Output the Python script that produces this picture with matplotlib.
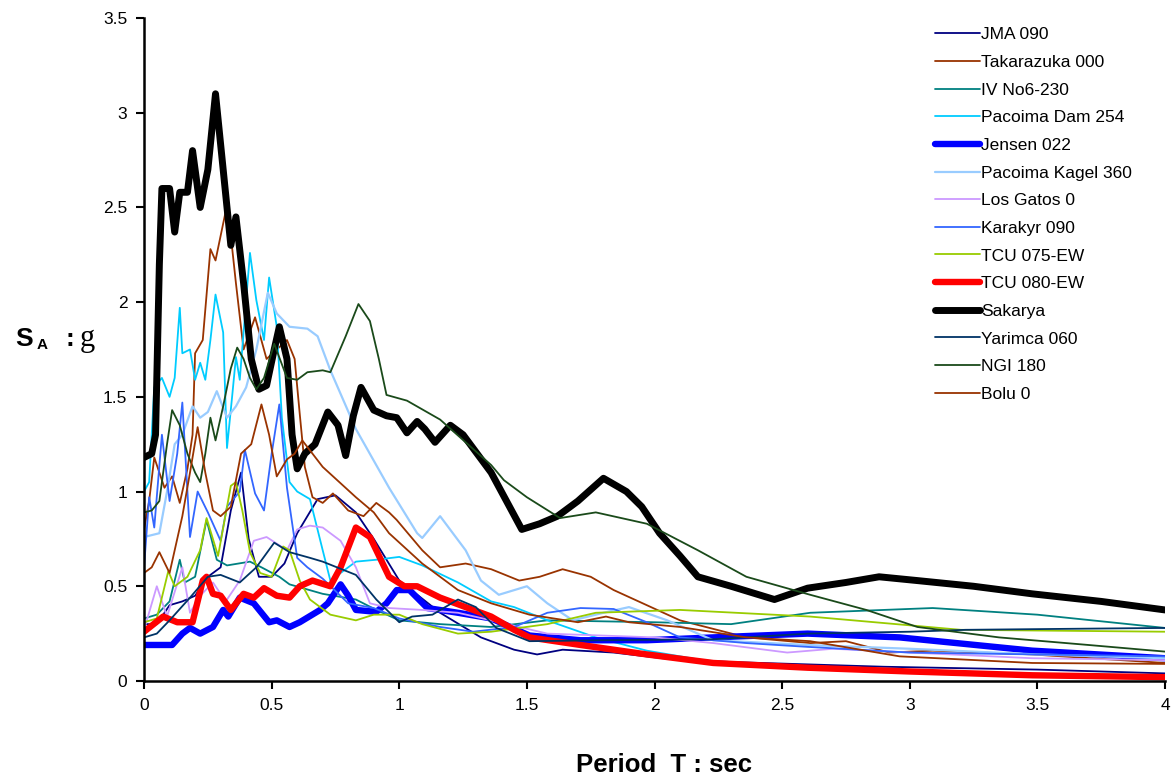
import matplotlib
matplotlib.use('Agg')
import matplotlib.pyplot as plt

plt.rcParams['font.family'] = ['Liberation Sans', 'DejaVu Sans']

# spectral acceleration SA (g) vs period T (s)
jma_t = [0, 0.05, 0.1, 0.15, 0.2, 0.25, 0.3, 0.34, 0.38, 0.41, 0.45, 0.5, 0.55, 0.6, 0.68, 0.75, 0.83, 0.9, 1.0,
         1.16, 1.32, 1.45, 1.54, 1.64, 1.84, 2.03, 2.3, 2.9, 3.5, 4.0]
jma_sa = [0.3, 0.3, 0.4, 0.42, 0.45, 0.55, 0.6, 0.9, 1.1, 0.75, 0.55, 0.55, 0.62, 0.78, 0.96, 0.98, 0.89, 0.75, 0.53,
          0.36, 0.23, 0.165, 0.14, 0.165, 0.15, 0.12, 0.1, 0.075, 0.06, 0.04]

tak_t = [0, 0.02, 0.04, 0.06, 0.08, 0.11, 0.14, 0.17, 0.19, 0.2, 0.23, 0.26, 0.28, 0.32, 0.34, 0.36, 0.39, 0.435,
         0.48, 0.52, 0.56, 0.59, 0.61, 0.63, 0.66, 0.7, 0.74, 0.8, 0.86, 0.91, 0.96, 0.99, 1.09, 1.16, 1.26, 1.36,
         1.47, 1.55, 1.64, 1.75, 1.84, 2.1, 2.36, 2.61, 2.75, 2.92, 3.09, 3.48, 4.0]
tak_sa = [0.8, 0.95, 1.18, 1.1, 1.02, 1.08, 0.94, 1.12, 1.3, 1.73, 1.8, 2.28, 2.22, 2.48, 2.35, 2.1, 1.75, 1.92,
          1.7, 1.75, 1.8, 1.7, 1.41, 1.13, 0.97, 0.94, 0.99, 0.9, 0.87, 0.94, 0.89, 0.85, 0.69, 0.6, 0.62, 0.59,
          0.53, 0.55, 0.59, 0.55, 0.48, 0.32, 0.23, 0.2, 0.21, 0.15, 0.16, 0.14, 0.095]

iv_t = [0, 0.05, 0.1, 0.14, 0.16, 0.2, 0.245, 0.285, 0.325, 0.37, 0.415, 0.46, 0.53, 0.57, 0.7, 0.83, 0.91, 1.0,
        1.16, 1.36, 1.58, 2.0, 2.3, 2.61, 3.09, 3.5, 4.0]
iv_sa = [0.33, 0.35, 0.42, 0.64, 0.52, 0.55, 0.85, 0.64, 0.61, 0.62, 0.63, 0.6, 0.55, 0.51, 0.46, 0.43, 0.375, 0.32,
         0.3, 0.285, 0.32, 0.31, 0.3, 0.36, 0.385, 0.35, 0.28]

pdam_t = [0, 0.02, 0.04, 0.07, 0.1, 0.12, 0.14, 0.15, 0.18, 0.2, 0.22, 0.24, 0.26, 0.28, 0.31, 0.325, 0.345, 0.36,
          0.375, 0.415, 0.44, 0.47, 0.49, 0.52, 0.54, 0.57, 0.6, 0.65, 0.7, 0.73, 0.77, 0.83, 0.91, 1.0, 1.09, 1.23,
          1.36, 1.45, 1.6, 1.77, 1.97, 2.23, 2.6, 3.0, 3.5, 4.0]
pdam_sa = [1.0, 1.05, 1.55, 1.6, 1.5, 1.6, 1.97, 1.73, 1.75, 1.59, 1.68, 1.59, 1.8, 2.04, 1.84, 1.23, 1.5, 1.71,
           1.59, 2.26, 2.01, 1.8, 2.13, 1.87, 1.39, 1.05, 1.0, 0.96, 0.69, 0.53, 0.57, 0.63, 0.64, 0.655, 0.61, 0.52,
           0.42, 0.39, 0.31, 0.23, 0.16, 0.1, 0.065, 0.05, 0.035, 0.025]

jen_t = [0, 0.05, 0.11, 0.15, 0.18, 0.22, 0.27, 0.31, 0.33, 0.375, 0.43, 0.49, 0.52, 0.57, 0.61, 0.69, 0.72, 0.77,
         0.8, 0.83, 0.91, 0.95, 0.99, 1.04, 1.11, 1.23, 1.36, 1.51, 1.71, 1.97, 2.23, 2.6, 2.96, 3.48, 4.0]
jen_sa = [0.19, 0.19, 0.19, 0.25, 0.28, 0.25, 0.285, 0.375, 0.34, 0.44, 0.41, 0.31, 0.32, 0.285, 0.31, 0.375, 0.41,
          0.51, 0.45, 0.375, 0.365, 0.41, 0.48, 0.48, 0.385, 0.36, 0.33, 0.24, 0.215, 0.215, 0.23, 0.25, 0.23, 0.16,
          0.12]

kag_t = [0, 0.03, 0.06, 0.09, 0.12, 0.15, 0.19, 0.22, 0.25, 0.285, 0.325, 0.36, 0.4, 0.44, 0.485, 0.52, 0.57, 0.64,
         0.68, 0.73, 0.83, 0.96, 1.07, 1.09, 1.16, 1.26, 1.32, 1.39, 1.5, 1.58, 1.68, 1.8, 1.9, 2.05, 2.23, 2.6, 3.0,
         3.5, 4.0]
kag_sa = [0.76, 0.77, 0.78, 1.0, 1.25, 1.3, 1.45, 1.39, 1.42, 1.53, 1.39, 1.45, 1.55, 1.75, 2.05, 1.94, 1.87, 1.86,
          1.82, 1.64, 1.33, 1.02, 0.78, 0.755, 0.87, 0.69, 0.53, 0.455, 0.5, 0.41, 0.32, 0.36, 0.39, 0.32, 0.215,
          0.19, 0.17, 0.14, 0.12]

gat_t = [0, 0.05, 0.09, 0.15, 0.18, 0.22, 0.27, 0.32, 0.375, 0.43, 0.48, 0.56, 0.6, 0.65, 0.7, 0.77, 0.83, 0.885,
         0.96, 1.09, 1.23, 1.36, 1.58, 2.0, 2.23, 2.52, 2.7, 3.0, 3.48, 4.0]
gat_sa = [0.27, 0.5, 0.34, 0.6, 0.36, 0.45, 0.52, 0.42, 0.53, 0.74, 0.76, 0.69, 0.8, 0.82, 0.81, 0.74, 0.6, 0.41,
          0.385, 0.375, 0.36, 0.32, 0.25, 0.23, 0.2, 0.15, 0.17, 0.15, 0.12, 0.11]

kar_t = [0, 0.02, 0.04, 0.07, 0.1, 0.13, 0.15, 0.17, 0.18, 0.21, 0.25, 0.3, 0.325, 0.375, 0.395, 0.435, 0.47, 0.5,
         0.53, 0.56, 0.6, 0.64, 0.7, 0.8, 0.9, 1.0, 1.16, 1.29, 1.45, 1.58, 1.71, 1.84, 1.97, 2.1, 2.36, 2.6, 3.0,
         3.5, 4.0]
kar_sa = [0.6, 0.97, 0.81, 1.3, 0.95, 1.2, 1.47, 1.0, 0.76, 1.0, 0.89, 0.74, 0.92, 1.0, 1.22, 0.99, 0.9, 1.2, 1.46,
          1.02, 0.65, 0.6, 0.54, 0.41, 0.385, 0.33, 0.285, 0.26, 0.285, 0.36, 0.385, 0.38, 0.31, 0.23, 0.2, 0.18,
          0.15, 0.14, 0.13]

t075_t = [0, 0.05, 0.095, 0.12, 0.17, 0.22, 0.245, 0.29, 0.34, 0.36, 0.385, 0.415, 0.455, 0.5, 0.545, 0.57, 0.61,
          0.65, 0.73, 0.83, 0.9, 1.0, 1.09, 1.23, 1.36, 1.58, 1.77, 2.1, 2.61, 3.2, 4.0]
t075_sa = [0.31, 0.33, 0.58, 0.5, 0.55, 0.69, 0.86, 0.66, 1.03, 1.05, 0.9, 0.68, 0.57, 0.55, 0.71, 0.69, 0.53,
           0.43, 0.35, 0.32, 0.35, 0.35, 0.3, 0.25, 0.26, 0.3, 0.36, 0.375, 0.34, 0.27, 0.26]

t080_t = [0, 0.075, 0.13, 0.19, 0.23, 0.245, 0.27, 0.3, 0.34, 0.39, 0.43, 0.47, 0.52, 0.57, 0.61, 0.66, 0.73, 0.77,
          0.83, 0.885, 0.96, 1.02, 1.07, 1.16, 1.26, 1.36, 1.45, 1.51, 1.71, 1.97, 2.23, 2.6, 3.0, 3.48, 4.0]
t080_sa = [0.26, 0.34, 0.31, 0.31, 0.53, 0.55, 0.46, 0.45, 0.375, 0.46, 0.44, 0.49, 0.45, 0.44, 0.5, 0.53, 0.5,
           0.6, 0.81, 0.76, 0.55, 0.5, 0.5, 0.44, 0.39, 0.34, 0.27, 0.23, 0.19, 0.14, 0.095, 0.07, 0.05, 0.03, 0.02]

sak_t = [0, 0.03, 0.045, 0.06, 0.07, 0.1, 0.12, 0.14, 0.17, 0.19, 0.22, 0.25, 0.28, 0.31, 0.34, 0.36, 0.39, 0.42,
         0.45, 0.48, 0.51, 0.53, 0.56, 0.58, 0.6, 0.63, 0.67, 0.72, 0.76, 0.79, 0.82, 0.85, 0.9, 0.95, 0.99, 1.03,
         1.07, 1.1, 1.14, 1.2, 1.25, 1.36, 1.48, 1.55, 1.62, 1.7, 1.8, 1.89, 1.95, 2.02, 2.1, 2.17, 2.3, 2.47, 2.6,
         2.75, 2.88, 3.03, 3.25, 3.48, 3.75, 4.0]
sak_sa = [1.18, 1.2, 1.3, 2.2, 2.6, 2.6, 2.37, 2.58, 2.58, 2.8, 2.5, 2.7, 3.1, 2.7, 2.3, 2.45, 2.1, 1.7, 1.54,
          1.56, 1.75, 1.87, 1.7, 1.3, 1.12, 1.2, 1.25, 1.42, 1.35, 1.19, 1.4, 1.55, 1.43, 1.4, 1.39, 1.31, 1.37,
          1.33, 1.26, 1.35, 1.3, 1.1, 0.8, 0.83, 0.87, 0.95, 1.07, 1.0, 0.92, 0.78, 0.66, 0.55, 0.5, 0.43, 0.49,
          0.52, 0.55, 0.53, 0.5, 0.46, 0.42, 0.375]

yar_t = [0, 0.05, 0.1, 0.18, 0.25, 0.3, 0.375, 0.44, 0.51, 0.57, 0.65, 0.7, 0.83, 0.91, 1.0, 1.05, 1.13, 1.23, 1.3,
         1.38, 1.51, 1.8, 2.23, 2.6, 3.0, 3.22, 3.6, 4.0]
yar_sa = [0.23, 0.25, 0.32, 0.44, 0.55, 0.56, 0.52, 0.6, 0.73, 0.68, 0.65, 0.63, 0.56, 0.43, 0.31, 0.34, 0.35,
          0.43, 0.39, 0.28, 0.21, 0.215, 0.22, 0.25, 0.26, 0.27, 0.275, 0.28]

ngi_t = [0, 0.03, 0.06, 0.09, 0.11, 0.14, 0.17, 0.2, 0.22, 0.24, 0.26, 0.28, 0.31, 0.34, 0.365, 0.39, 0.415, 0.44,
         0.47, 0.51, 0.56, 0.6, 0.64, 0.7, 0.73, 0.79, 0.84, 0.885, 0.92, 0.95, 1.03, 1.16, 1.36, 1.41, 1.5, 1.63,
         1.77, 1.97, 2.17, 2.36, 2.61, 2.83, 3.03, 3.35, 3.7, 4.0]
ngi_sa = [0.89, 0.9, 0.95, 1.25, 1.43, 1.35, 1.2, 1.1, 1.05, 1.2, 1.39, 1.27, 1.45, 1.65, 1.76, 1.7, 1.6, 1.54,
          1.6, 1.78, 1.6, 1.59, 1.63, 1.64, 1.63, 1.82, 1.99, 1.9, 1.7, 1.51, 1.48, 1.38, 1.14, 1.06, 0.97, 0.86,
          0.89, 0.83, 0.69, 0.55, 0.455, 0.375, 0.285, 0.23, 0.19, 0.155]

bolu_t = [0, 0.03, 0.06, 0.1, 0.15, 0.18, 0.21, 0.24, 0.27, 0.3, 0.34, 0.38, 0.42, 0.46, 0.49, 0.52, 0.56, 0.59,
          0.62, 0.7, 0.83, 0.9, 0.96, 1.09, 1.23, 1.36, 1.51, 1.7, 1.81, 1.9, 2.1, 2.36, 2.61, 2.96, 3.48, 4.0]
bolu_sa = [0.57, 0.6, 0.68, 0.57, 0.87, 1.1, 1.34, 1.1, 0.9, 0.87, 0.92, 1.2, 1.25, 1.46, 1.3, 1.08, 1.17, 1.2,
           1.27, 1.13, 0.97, 0.89, 0.78, 0.62, 0.48, 0.41, 0.35, 0.31, 0.34, 0.31, 0.285, 0.23, 0.21, 0.13, 0.095,
           0.09]

series = [
    ('JMA 090', jma_t, jma_sa, '#000080', 1.3),
    ('Takarazuka 000', tak_t, tak_sa, '#993300', 1.3),
    ('IV No6-230', iv_t, iv_sa, '#008080', 1.3),
    ('Pacoima Dam 254', pdam_t, pdam_sa, '#00CCFF', 1.3),
    ('Jensen 022', jen_t, jen_sa, '#0000FF', 4.6),
    ('Pacoima Kagel 360', kag_t, kag_sa, '#99CCFF', 1.6),
    ('Los Gatos 0', gat_t, gat_sa, '#CC99FF', 1.3),
    ('Karakyr 090', kar_t, kar_sa, '#3366FF', 1.3),
    ('TCU 075-EW', t075_t, t075_sa, '#99CC00', 1.3),
    ('TCU 080-EW', t080_t, t080_sa, '#FF0000', 4.6),
    ('Sakarya', sak_t, sak_sa, '#000000', 5.0),
    ('Yarimca 060', yar_t, yar_sa, '#003366', 1.3),
    ('NGI 180', ngi_t, ngi_sa, '#1A4A1A', 1.3),
    ('Bolu 0', bolu_t, bolu_sa, '#993300', 1.3),
]

fig = plt.figure(figsize=(11.74, 7.77), dpi=100)
ax = fig.add_axes([0.1227, 0.1236, 0.8696, 0.8532])

for name, t, sa, col, lw in series:
    ax.plot(t, sa, color=col, lw=lw, label=name, solid_joinstyle='round', solid_capstyle='round')

ax.set_xlim(0, 4)
ax.set_ylim(0, 3.5)
ax.set_xticks([0, 0.5, 1, 1.5, 2, 2.5, 3, 3.5, 4])
ax.set_xticklabels(['0', '0.5', '1', '1.5', '2', '2.5', '3', '3.5', '4'])
ax.set_yticks([0, 0.5, 1, 1.5, 2, 2.5, 3, 3.5])
ax.set_yticklabels(['0', '0.5', '1', '1.5', '2', '2.5', '3', '3.5'])
for s in ['top', 'right']:
    ax.spines[s].set_visible(False)
for s in ['left', 'bottom']:
    ax.spines[s].set_linewidth(1.8)
ax.tick_params(direction='out', length=6, width=1.5, labelsize=12.5, pad=6)

ax.legend(loc='upper left', bbox_to_anchor=(0.796, 0.965), bbox_transform=fig.transFigure,
          frameon=False, fontsize=12.5, labelspacing=0.72, handlelength=2.6, handletextpad=0.1,
          borderpad=0, borderaxespad=0)

# y label: S_A : g
fig.text(0.013, 0.555, 'S', fontsize=19, fontweight='bold', va='baseline')
fig.text(0.031, 0.551, 'A', fontsize=11, fontweight='bold', va='baseline')
fig.text(0.056, 0.555, ':', fontsize=19, fontweight='bold', va='baseline')
fig.text(0.068, 0.555, 'g', fontsize=22, family='Liberation Serif', va='baseline')

fig.text(0.566, 0.0154, 'Period  T : sec', fontsize=18.5, fontweight='bold', ha='center', va='center')

fig.savefig('out.png', dpi=100)
